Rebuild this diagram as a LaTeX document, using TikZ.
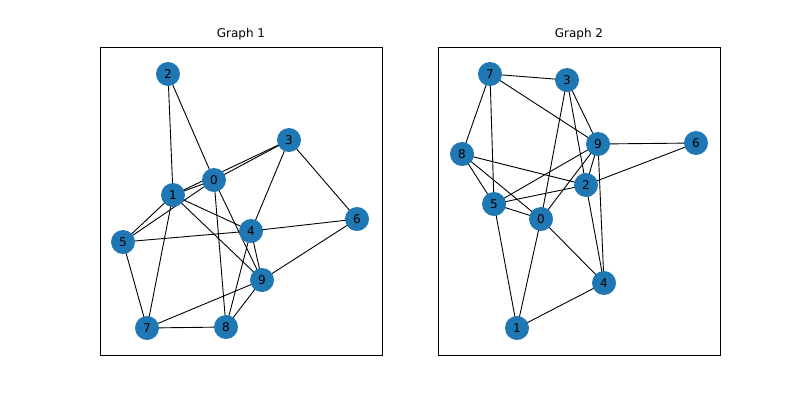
\documentclass[tikz,border=0pt]{standalone}
\usepackage{fontspec}
\setmainfont{DejaVu Sans}
\definecolor{tabblue}{HTML}{1F77B4}
\begin{document}
\begin{tikzpicture}[x=1pt,y=-1pt,
  v/.style={circle,fill=tabblue,minimum size=24pt,inner sep=0pt,font=\fontsize{12}{12}\selectfont},
  e/.style={line width=0.9pt},
  ttl/.style={font=\fontsize{12}{12}\selectfont}]
\useasboundingbox (0,0) rectangle (800,400);
\draw[line width=0.8pt] (100,47) rectangle (382,355);
\draw[line width=0.8pt] (438,47) rectangle (720,355);
\node[ttl] (t1) at (241,34) {Graph 1};
\node[ttl] (t2) at (579,34) {Graph 2};
% graph 1
\begin{scope}
\coordinate (a2) at (168,74);\coordinate (a3) at (289,140);\coordinate (a0) at (214,180);
\coordinate (a1) at (173,195);\coordinate (a6) at (357,219);\coordinate (a4) at (251,231);
\coordinate (a5) at (123,242);\coordinate (a9) at (262,280);\coordinate (a7) at (147,328);
\coordinate (a8) at (226,327);
\foreach \u/\w in {2/1,2/0,3/0,3/1,3/4,3/6,0/1,0/5,0/8,0/9,1/5,1/4,1/9,1/7,5/4,4/6,4/8,4/9,5/7,9/6,9/7,9/8,7/8}
  \draw[e] (a\u) -- (a\w);
\foreach \i in {0,...,9} \node[v] (n1\i) at (a\i) {\i};
\end{scope}
% graph 2
\begin{scope}
\coordinate (b7) at (490,74);\coordinate (b3) at (567,80);\coordinate (b9) at (598,144);
\coordinate (b6) at (696,143);\coordinate (b8) at (462,154);\coordinate (b2) at (586,185);
\coordinate (b5) at (494,204);\coordinate (b0) at (541,219);\coordinate (b4) at (604,283);
\coordinate (b1) at (517,328);
\foreach \u/\w in {7/3,7/9,7/8,7/5,3/0,3/2,3/9,9/2,9/5,9/0,9/4,9/6,8/2,8/5,8/0,5/2,5/0,5/1,0/1,0/4,2/4,2/6,1/4}
  \draw[e] (b\u) -- (b\w);
\foreach \i in {0,...,9} \node[v] (n2\i) at (b\i) {\i};
\end{scope}
\end{tikzpicture}
\end{document}
